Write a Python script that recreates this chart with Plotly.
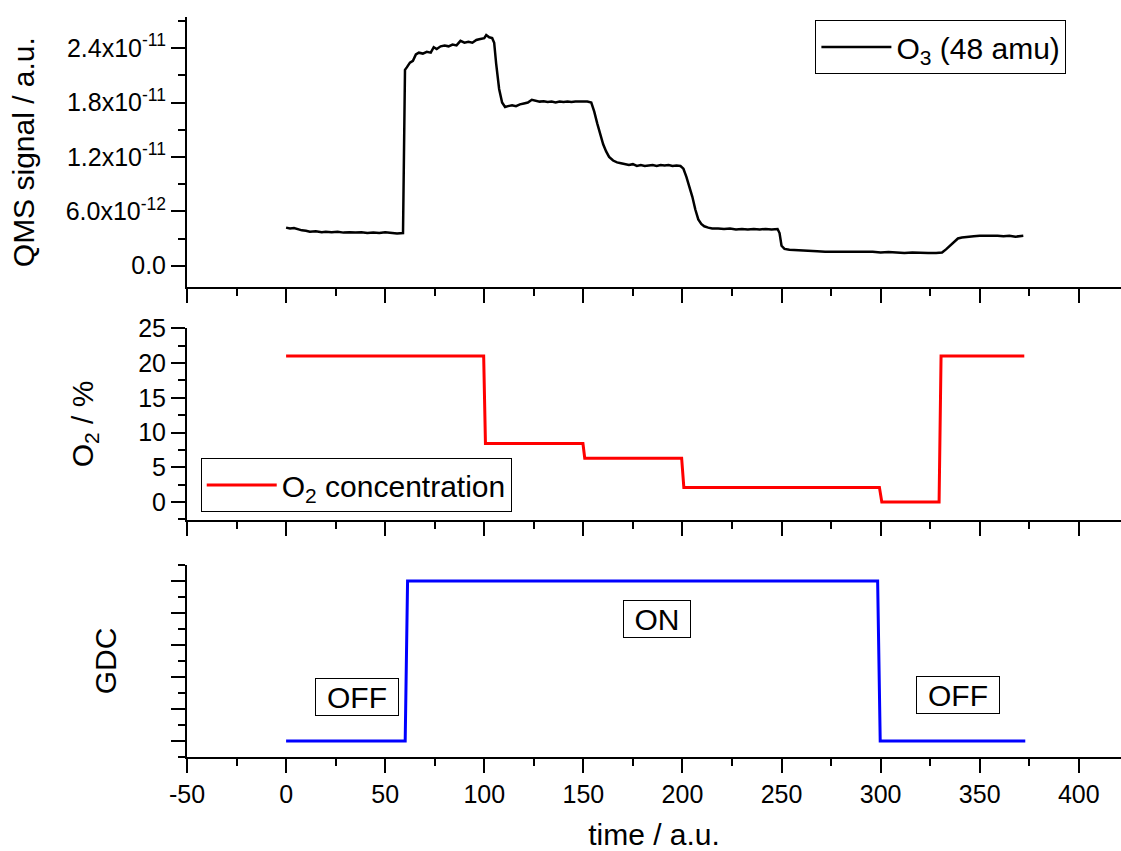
import plotly.graph_objects as go

# ---------------- data ----------------
o3_time = [0, 2, 4, 6, 8, 10, 12, 15, 18, 20, 23, 26, 29, 32, 35, 38, 41, 44, 47, 50, 53, 56, 59,
           59.5, 60, 61, 62.5, 64, 65.5, 67, 69, 71, 73, 74.5, 76, 78, 80, 82, 84, 86, 88, 90, 92,
           94, 96, 98, 100, 101, 102.5, 104, 105, 106, 107.5, 109, 110.5, 112, 114, 116, 118, 120,
           122, 124, 126, 128, 130, 132, 134, 136, 138, 140, 142, 144, 146, 148, 150, 152, 154,
           155.5, 157, 158.5, 160, 161.5, 163, 165, 167, 169, 171, 173, 175, 177, 179, 181, 183,
           185, 187, 189, 191, 193, 195, 197, 199, 200.5, 202, 203.5, 205, 206.5, 208, 209.5, 211,
           213, 215, 218, 221, 224, 227, 230, 233, 236, 239, 242, 245, 248, 249, 250, 251.5, 254,
           257, 260, 264, 268, 272, 276, 280, 284, 288, 292, 296, 300, 304, 308, 312, 316, 320,
           324, 328, 331, 333, 335, 337, 339, 341, 344, 347, 350, 353, 356, 359, 362, 365, 368,
           371, 372]
# QMS signal in units of 1e-12 a.u.
o3_signal_e12 = [4.2, 4.1, 4.15, 4.0, 3.9, 3.85, 3.75, 3.8, 3.7, 3.75, 3.7, 3.75, 3.65, 3.7, 3.65,
                 3.7, 3.6, 3.65, 3.6, 3.7, 3.6, 3.55, 3.6,
                 12.0, 21.6, 21.9, 22.4, 22.6, 23.3, 23.5, 23.4, 23.6, 23.5, 24.1, 23.9, 24.2, 24.3,
                 24.2, 24.4, 24.3, 24.8, 24.6, 24.7, 24.6, 24.9, 25.0, 25.1, 25.45, 25.2, 25.1,
                 24.6, 22.3, 19.5, 18.0, 17.5, 17.6, 17.7, 17.6, 17.8, 17.9, 18.0, 18.3, 18.2,
                 18.1, 18.15, 18.05, 18.1, 18.0, 18.1, 18.05, 18.1, 18.05, 18.1, 18.1, 18.15, 18.1,
                 18.0, 17.0, 15.7, 14.5, 13.4, 12.6, 12.0, 11.6, 11.4, 11.3, 11.2, 11.1, 11.2, 11.0,
                 11.1, 11.0, 11.05, 11.1, 11.0, 11.1, 11.05, 11.1, 11.0, 11.05, 11.0, 10.7, 9.8,
                 8.8, 7.6, 6.2, 5.1, 4.6, 4.35, 4.2, 4.1, 4.1, 4.05, 4.1, 4.0, 4.05, 4.0, 4.05, 4.0,
                 4.05, 4.0, 4.05, 3.6, 2.2, 1.85, 1.75, 1.7, 1.65, 1.6, 1.6, 1.55, 1.55, 1.55, 1.5,
                 1.55, 1.5, 1.55, 1.45, 1.5, 1.45, 1.4, 1.45, 1.4, 1.4, 1.4, 1.45, 1.8, 2.2, 2.7,
                 3.0, 3.1, 3.2, 3.25, 3.3, 3.3, 3.35, 3.3, 3.25, 3.3, 3.2, 3.3, 3.3]

o2_time = [0, 99.7, 100.6, 149.8, 150.7, 199.6, 200.7, 299.4, 300.6, 329.5, 330.5, 372.5]
o2_percent = [21, 21, 8.4, 8.4, 6.3, 6.3, 2.1, 2.1, 0, 0, 21, 21]

gdc_time = [0, 60.1, 61.3, 298.5, 299.8, 373]
gdc_state = [0, 0, 1, 1, 0, 0]

time_tickvals = [-50, 0, 50, 100, 150, 200, 250, 300, 350, 400]
time_ticktext = ["-50", "0", "50", "100", "150", "200", "250", "300", "350", "400"]

qms_tickvals = [0, 6e-12, 1.2e-11, 1.8e-11, 2.4e-11]
qms_ticktext = ["0.0", "6.0x10<sup>-12</sup>", "1.2x10<sup>-11</sup>",
                "1.8x10<sup>-11</sup>", "2.4x10<sup>-11</sup>"]
qms_minor = [3e-12, 9e-12, 1.5e-11, 2.1e-11, 2.7e-11]

state_labels = ["OFF", "ON", "OFF"]
state_x = [35.6, 187, 338.9]
state_y = [0.273, 0.76, 0.289]
state_box_w = [80, 64, 80]

# ---------------- figure ----------------
FONT = "Liberation Sans, Arial, sans-serif"
o3_signal = [v * 1e-12 for v in o3_signal_e12]

fig = go.Figure()
fig.add_trace(go.Scatter(x=o3_time, y=o3_signal, mode="lines",
                         line=dict(color="black", width=2.5),
                         name="O<sub>3</sub> (48 amu)", xaxis="x", yaxis="y", legend="legend"))
fig.add_trace(go.Scatter(x=o2_time, y=o2_percent, mode="lines",
                         line=dict(color="#ff0000", width=3),
                         name="O<sub>2</sub> concentration", xaxis="x2", yaxis="y2", legend="legend2"))
fig.add_trace(go.Scatter(x=gdc_time, y=gdc_state, mode="lines",
                         line=dict(color="#0000ff", width=3),
                         name="GDC", showlegend=False, xaxis="x3", yaxis="y3"))

xrange = [-50, 421.3]
def xax(anchor, labels):
    d = dict(range=xrange, anchor=anchor, domain=[0, 1], showline=True, linecolor="black",
             linewidth=2, ticks="outside", ticklen=14, tickwidth=2, tickcolor="black",
             tickmode="array", tickvals=time_tickvals, ticktext=time_ticktext,
             showgrid=False, zeroline=False, automargin=False,
             showticklabels=labels, tickfont=dict(size=25, color="black"),
             minor=dict(ticks="outside", ticklen=7, tickwidth=2, tickcolor="black",
                        tickmode="linear", tick0=0, dtick=25, showgrid=False))
    return d

ycommon = dict(showline=True, linecolor="black", linewidth=2, ticks="outside", ticklen=14,
               tickwidth=2, tickcolor="black", showgrid=False, zeroline=False, automargin=False,
               tickfont=dict(size=25, color="black"))

xaxis3 = xax("y3", True)
xaxis3["title"] = dict(text="time / a.u.", font=dict(size=30, color="black"), standoff=18)

fig.update_layout(
    width=1121, height=851,
    margin=dict(l=187, r=0, t=0, b=94, autoexpand=False),
    paper_bgcolor="white", plot_bgcolor="white",
    font=dict(family=FONT, color="black"),
    xaxis=xax("y", False),
    xaxis2=xax("y2", False),
    xaxis3=xaxis3,
    yaxis=dict(ycommon, domain=[0.6205, 0.9775], range=[-2.38e-12, 2.743e-11], anchor="x",
               tickmode="array", tickvals=qms_tickvals, ticktext=qms_ticktext,
               minor=dict(ticks="outside", ticklen=7, tickwidth=2, tickcolor="black",
                          tickmode="array", tickvals=qms_minor),
               title=dict(text="QMS signal / a.u.", font=dict(size=30, color="black"), standoff=22)),
    yaxis2=dict(ycommon, domain=[0.3135, 0.5663], range=[-2.55, 25], anchor="x2",
                tickmode="linear", tick0=0, dtick=5,
                minor=dict(ticks="outside", ticklen=7, tickwidth=2, tickcolor="black",
                           tickmode="linear", tick0=0, dtick=2.5),
                title=dict(text="O<sub>2</sub> / %", font=dict(size=30, color="black"), standoff=36)),
    yaxis3=dict(ycommon, domain=[0, 0.2536], range=[-0.1, 1.1], anchor="x3",
                tickmode="linear", tick0=0, dtick=0.2, showticklabels=False,
                minor=dict(ticks="outside", ticklen=7, tickwidth=2, tickcolor="black",
                           tickmode="linear", tick0=-0.1, dtick=0.2),
                title=dict(text="GDC", font=dict(size=30, color="black"), standoff=45)),
    legend=dict(x=0.6728, y=0.9736, xanchor="left", yanchor="top", bordercolor="black",
                borderwidth=1, bgcolor="white", font=dict(size=30, color="black"),
                itemwidth=70),
    legend2=dict(x=0.0147, y=0.395, xanchor="left", yanchor="top", bordercolor="black",
                 borderwidth=1, bgcolor="white", font=dict(size=30, color="black"),
                 itemwidth=70),
    showlegend=True,
)

for lab, xv, yv, bw in zip(state_labels, state_x, state_y, state_box_w):
    fig.add_annotation(x=xv, y=yv, xref="x3", yref="y3", text=lab, showarrow=False,
                       font=dict(size=30, color="black"), bordercolor="black", borderwidth=1,
                       borderpad=1, width=bw, height=34, bgcolor="white")

fig.write_html("out.html")
